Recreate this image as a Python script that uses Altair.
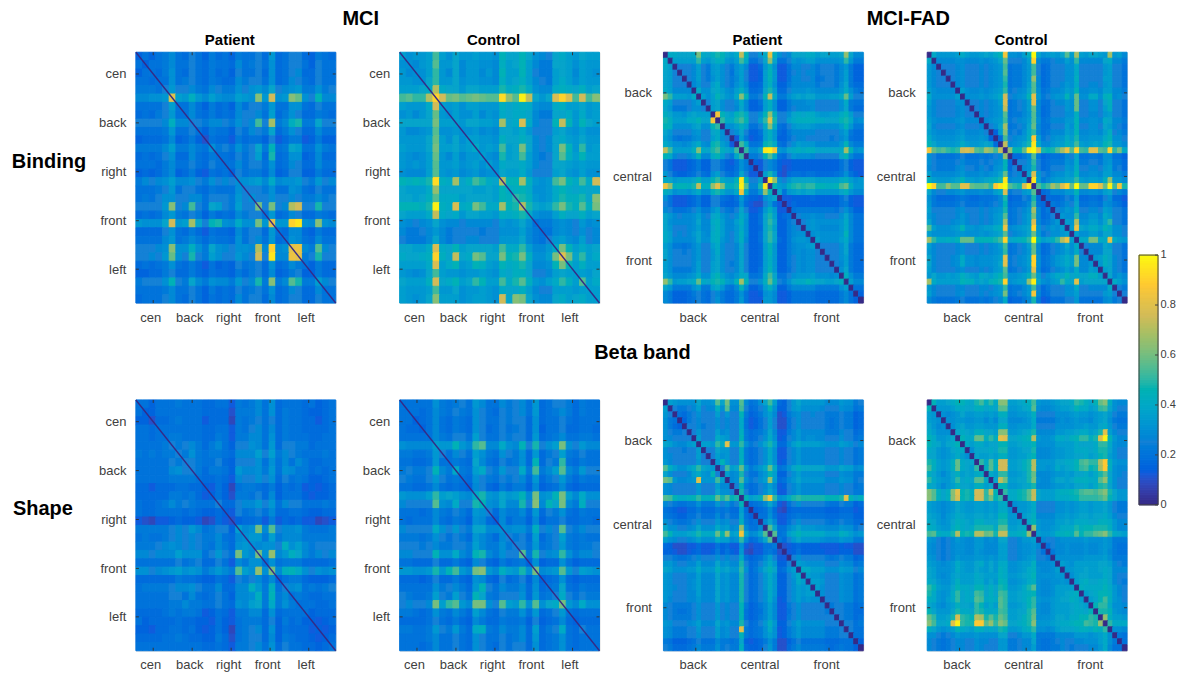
import altair as alt
import pandas as pd

FONT = "Liberation Sans"
INK = "#404040"
# each character is one cell: 0=0.00, 1=0.05, 2=0.10 ... j=0.95, k=1.00
SCALE = "0123456789abcdefghijk"
PARULA = ["#352a87", "#0f5cdd", "#1481d6", "#06a4ca", "#2eb7a4", "#87bf77", "#d1bb59", "#fec832", "#f9fb0e"]
STOPS = [0, 0.125, 0.25, 0.375, 0.5, 0.625, 0.75, 0.875, 1]

binding_mci_patient = [
"34344 54454 34343 44544 64454 33443", "43444 54454 44444 54544 64454 43544", "34444 64454 34343 54544 54454 34544",
"44343 64554 44434 54644 64454 44544", "55555 76665 56656 76877 87777 56756", "66666 g7797 67767 777d7 f77cb 66866",
"44444 74454 34343 54645 65466 44544", "34344 64454 44344 54654 74564 34443", "55555 86655 55655 656a5 d5688 45755",
"44444 64454 34443 54745 84564 34544", "33433 53343 23333 43533 53344 23433", "55555 75565 56565 65695 b5587 45654",
"44444 54454 44444 54644 64454 34544", "44444 54454 44444 54644 64454 34544", "33333 43343 23343 43533 53344 23433",
"56565 76665 56566 66866 87767 55756", "44454 64654 44445 65645 65465 44544", "34344 54454 34444 54644 64454 34544",
"66666 c66b6 56a66 866c6 c77de 66866", "34344 64454 34344 54644 64454 34443", "76767 f77e7 57d66 866c7 g76ij 66c66",
"33333 53343 23333 43633 64355 33433", "44444 64454 44444 54644 74465 44544", "55565 d6696 57766 666f6 i66gg 65a65",
"66766 c66b6 57866 666g6 j66hg 56966", "44444 64454 34344 54644 64454 43544", "33333 43343 33333 43543 53344 33433",
"55555 a5586 56665 656b5 d56ca 45765", "44444 54454 34344 54544 64454 34544", "44444 54454 34344 54644 54454 34544",
]
binding_mci_control = [
"76776 b7787 77777 87877 76677 78787", "66676 b6786 66666 76866 65576 77676", "65666 a6676 66565 76766 65566 76676",
"66666 b6776 66666 76866 65567 77676", "88898 e9988 88888 98a88 87789 9a988", "aba9e ifccc ccccc icbjf 767gi ibgbd",
"77777 f7777 77777 87977 76688 78777", "56566 b6666 56566 76866 65576 67676", "77887 c7877 78777 d78f8 655ae b7a77",
"65565 a5666 56566 67766 55566 66665", "67777 b7787 77777 87877 66677 77776", "77777 c7877 78777 c78e8 6567e a7c77",
"66666 b6676 66766 77766 65577 77676", "66766 a6776 67676 77866 65576 77676", "55656 a6665 56566 67766 55566 66665",
"aabaa j99e9 99c99 e9ac9 778cd a9c9g", "88888 e8988 87787 98988 67788 88888", "77777 b7887 77877 88a77 66777 88878",
"bccbb kaaga aafaa facea 99ace cbebh", "88888 e9987 87887 88a98 76678 89988", "55454 85555 55555 66765 45555 55655",
"54454 75455 45455 55655 44455 55555", "44444 85455 55555 56655 44566 56655", "88888 f8888 88888 98987 6678c 98888",
"99998 i99f9 9af99 baca9 778cg a9a89", "77777 d7a77 78a77 88977 6679e 97977", "55555 a6666 66766 77966 55566 77677",
"88888 e8a88 88c88 98b88 7788a 88b88", "66666 a6686 66766 77866 65566 76676", "77677 c7877 77877 e7h77 76677 78887",
]
binding_fad_patient = [
"08888 88c88 88a88 8e866 88h88 66888 88888 888d8 66", "80777 77a77 78977 7b755 77e75 56777 77777 777a7 55",
"87055 55755 67655 67533 46953 35666 56555 55664 33", "77505 55755 67654 67433 37a63 35566 66555 55674 33",
"77550 55755 57655 57433 37a63 35666 56445 55674 33", "77555 05755 68655 67533 47953 35666 66555 55684 44",
"87666 60866 69766 79644 48b64 46777 77666 66796 55", "ca777 68077 79877 8c855 59e75 57888 88777 778b8 66",
"87555 56705 68655 68433 47953 35666 66555 55684 44", "76444 56550 68655 57433 37953 35566 56555 55674 33",
"98777 89788 0h988 9a866 79c86 67999 99888 88a98 66", "b9777 87977 h0a88 9a866 7ag96 68999 99888 88a98 66",
"88666 67766 9a077 79755 58b75 46788 87666 66797 55", "76555 56655 78505 67533 47854 35666 66555 55674 33",
"65444 45555 68550 56433 37853 34566 55555 45563 33", "87666 67866 9a760 9b855 59a75 46788 77666 66796 55",
"fa777 78d88 9b888 a0a66 8jki7 68999 99888 888da 77", "a9666 67a77 8a755 8a066 69c75 46888 87666 66a97 55",
"43222 33433 44332 36303 24533 22333 33333 33443 22", "43222 33433 44333 36330 24533 22333 33333 33443 22",
"53333 34544 57544 47433 07a53 24444 44344 44554 33", "88777 77977 9a877 9j966 70j87 57888 88777 77987 66",
"gc888 88f88 ege99 9ja66 9j0i8 79aaa aa999 99ca9 77", "98777 78977 9a988 9g966 8i087 58999 99888 88a98 77",
"43222 33433 44333 36333 25680 22333 33333 33443 22", "43222 33433 44333 36332 25633 02333 33333 33443 22",
"54333 44544 56444 47433 36853 30444 44444 44554 33", "76555 55655 67655 57533 47953 44055 56555 55675 44",
"75555 55755 78655 68433 47a63 35505 66666 66685 44", "76444 55655 68655 57433 37953 35650 66655 55685 44",
"87555 56766 78655 68433 47a63 35666 06766 66695 44", "87555 55766 78655 68433 47a64 35677 60766 66785 44",
"65444 45655 68655 57433 47953 35666 67055 55674 33", "75555 55655 58655 57433 37953 35666 66505 55674 33",
"75555 55655 57655 57433 37853 35566 66550 55664 33", "65555 55755 67655 57433 37853 35566 66555 05574 33",
"65444 45755 67655 57433 47953 34566 66555 50684 33", "76555 66866 68766 68544 47954 45677 77666 66086 44",
"da777 77c88 9a977 9e966 79d86 57888 98888 77907 66", "76555 56655 68655 58433 47853 35666 66555 55670 44",
"54333 34444 45444 45333 36643 33444 44444 44554 03", "54333 33444 46444 46333 27643 33444 44444 44554 30",
]
binding_fad_control = [
"08777 77877 77888 8h766 77k87 7778c 8f877 777d7 66", "80666 66766 66677 7e655 66i76 55667 6b666 66a76 55",
"65055 55655 55566 6a444 56b54 45556 69555 55865 44", "65505 55655 55566 6a444 56b54 45556 69555 55865 44",
"65550 55655 55566 6b444 56c64 45556 6a555 55965 44", "65555 05655 55566 6a444 56c64 45566 69555 55865 44",
"76666 60766 66677 7b556 67c75 56677 7a666 66966 55", "85666 67066 66677 7e556 67e75 56778 7a666 66b75 55",
"75555 56605 55566 7e445 56e65 45666 6a555 55a65 44", "65555 55650 55566 6d445 56d64 45556 6a555 55965 44",
"65555 55655 05566 6c444 56c64 45556 69555 55865 44", "76666 66766 60677 7b556 66a75 56667 7a666 66b76 55",
"75555 55655 55056 7c445 56d65 45556 6a555 55966 44", "65555 55655 55506 6a444 56a54 45556 69555 55864 44",
"86666 66766 66607 7a556 67h85 56778 7a666 67a76 55", "a8777 77977 77880 gc667 78j97 67889 8c877 88c87 66",
"h9bc9 99ghg aaffb h0h88 bjkj9 99bhh bibag gbbia c8", "54444 44544 44455 59033 45a53 34445 58444 44854 33",
"65555 55655 55566 6a405 56c64 45556 69555 55865 44", "55555 55655 55556 6a450 56b54 45556 69555 55864 44",
"75666 66766 66677 8c556 07h86 56777 7a666 66966 55", "a8777 88b88 789aa bj666 70j85 67888 8c877 77b87 66",
"kiaae aaiia acaai jkc88 ej0b8 9ebjj bkbbi iibka h9", "74555 55655 55566 7c445 56b04 45556 69555 55865 44",
"53333 33433 33344 4a333 44b30 33344 47333 33643 22", "64444 44544 44455 59444 45c44 04445 58444 44855 33",
"75555 55655 55566 6a445 56d64 50556 69555 55965 44", "65555 55655 55566 6b445 56d64 45056 6a555 55a65 44",
"75555 55655 55566 6a445 56c64 56807 7b666 66965 44", "a7666 77a77 66888 8g667 77h76 67670 7g877 77b76 55",
"66666 66666 66677 7b556 67c75 56667 07666 66966 55", "c9777 78ddd 88899 9i778 88k97 78ahh 7088d d88g8 66",
"65555 55655 55566 6a445 56c64 45667 68055 55965 44", "65555 55655 55566 6a445 56c64 45667 68505 55965 44",
"85555 66a77 66777 7g556 67i75 56889 8b660 78b66 44", "85555 66a77 66777 7g556 67i75 56889 8b666 07b66 44",
"75555 55655 55566 6b445 56e64 45667 68666 60966 44", "65555 55655 55666 6a445 56c64 45667 68666 65065 44",
"e9888 88bbb 888bb bi778 8ij98 678e9 9g899 99908 77", "65555 55655 55566 6a445 56b54 45556 68555 55680 55",
"86666 66766 66677 7c556 67h75 56667 78666 66975 05", "54444 44544 44455 58333 45a53 34445 57444 44754 50",
]
shape_mci_patient = [
"44344 44444 44343 44544 54444 34344", "43344 44444 44232 45544 54544 33344", "33243 44444 34232 44544 44444 34344",
"44344 44444 44343 44644 54544 34444", "44444 54444 44443 45744 64544 44454", "44444 54554 44443 45744 64554 44544",
"54545 55575 56445 56766 65654 45554", "44444 54545 54434 45644 64545 44444", "44444 65655 45444 66755 65664 54544",
"44444 54444 34333 45645 54544 44444", "33233 33334 32332 34533 43333 23233", "33333 53443 33232 34533 43343 32333",
"55555 75655 56545 56766 65666 55565", "44444 44444 33333 44544 54444 44444", "22122 32222 12222 33422 32333 22122",
"55555 66677 56563 768c6 b6678 55555", "44444 55555 55544 56865 75566 55555", "44444 54444 43443 45645 54544 44444",
"77677 78878 57766 c77c8 d77c9 76777", "44444 44445 44443 54744 54444 34444", "77666 78677 57766 b77d7 c66b8 66777",
"33333 34433 33333 44644 53344 33333", "44544 55665 55534 56c65 b5566 45555", "44444 55454 44443 45855 75544 44444",
"44444 55655 55444 45a65 85654 44444", "44444 54544 33333 44744 64444 44444", "43333 33332 33323 34533 43434 23233",
"33233 33332 33322 34643 53333 33333", "33333 44433 33332 34633 43443 33233", "44444 44444 44333 44644 54544 34344",
]
shape_mci_control = [
"44444 65546 57644 65655 64464 54544", "44444 55555 56544 55655 64455 54544", "44344 54444 45544 55644 54444 44444",
"43334 54444 46534 54544 53444 34443", "44444 55556 57544 55644 64455 45554", "66666 77997 66e66 86686 7668a 66666",
"44444 65556 57654 65554 54456 45444", "33333 43433 34433 43433 43334 33333", "55555 96685 56b65 76696 d669e 76866",
"44444 64544 45554 54544 54455 44444", "33333 53433 34533 43533 43344 33333", "66767 e7b87 78c87 977b7 g77cg 87a76",
"55555 86755 57966 66655 86676 55655", "44444 54544 45654 55544 54454 44444", "43444 54444 35533 53533 43343 34443",
"55555 86665 56966 66755 8665b 55655", "44444 65545 46544 55544 64456 44544", "44444 54545 47544 54544 54455 44444",
"66666 a7977 67e76 766b6 8778a 76776", "33333 43433 34533 43433 43334 33333", "77777 c8e88 78h87 988b8 c778b 76887",
"33333 43433 35533 43433 43344 33333", "44444 65755 46c65 55544 54457 44544", "44444 65655 46844 55544 54456 44544",
"66666 e8g88 78i87 b88a8 b88ac 87877", "44444 65545 46644 55555 64465 44444", "33333 43433 34433 44433 43344 33333",
"44444 76655 46b54 54544 64458 44544", "44444 54544 45544 54544 54455 44444", "44444 54544 46544 54644 54455 44444",
]
shape_fad_patient = [
"07666 55755 6b7g5 5a544 67a64 35676 66665 55655 44", "70544 55755 58665 59544 56964 35676 66665 55655 44",
"75043 45655 57565 59444 56853 35665 56555 55544 33", "65403 45655 56555 58433 45853 24565 55555 45544 33",
"65430 55655 56555 58433 45853 24565 55555 45544 33", "75555 05755 57665 59544 56963 35676 66665 55655 44",
"76555 50755 59865 5a544 56963 35676 66665 55655 44", "87655 67077 6a8g6 6a655 67a74 46787 77766 66766 55",
"75554 55705 58765 59544 56963 35676 66665 55655 44", "76555 55750 57765 59544 56963 35676 66665 55655 44",
"76555 55755 05865 5a544 56963 35676 66665 55655 44", "b9766 77a77 80ab7 8c766 78c85 56898 88887 77877 66",
"86555 56865 a0865 6a544 66a74 35676 66665 55655 44", "8g766 67g77 7a806 7b766 78c85 56787 77776 66766 55",
"76555 55755 57650 59544 56863 35676 66665 55655 44", "76555 55755 57655 09544 56863 35676 66665 55655 44",
"cc988 88a88 8b9b9 a0988 9ah98 89aaa aaaaa aaag9 88", "65544 44644 46554 59044 55853 24565 55555 44544 33",
"43222 33433 33433 36303 34633 12333 33333 33333 22", "54333 44544 45444 47430 44743 23454 44444 44444 33",
"65444 45655 56555 58444 05853 24565 55555 45544 33", "86655 56866 68765 6g644 60b85 46787 77666 66766 55",
"b9666 67977 7b8e6 7h755 7b0b4 46787 77776 66866 55", "86655 56766 68765 6b644 67b05 46787 77766 66766 55",
"32111 22322 23222 24212 23440 12333 33322 22322 11", "33222 23322 34333 25223 34533 02343 33333 33333 22",
"55444 45555 56555 57444 45843 30565 55555 45544 33", "77555 55755 57665 59544 56963 35076 66665 55655 44",
"87666 66866 68776 6a644 67a74 46708 87776 66766 55", "76555 55755 57665 59544 56963 35780 76665 55655 44",
"76555 56755 57665 59544 56963 35687 07765 55655 44", "76555 56755 57665 59544 56963 35677 70765 55655 44",
"76555 55755 57665 59544 56963 35677 77065 55655 44", "75555 55755 57665 59544 56963 35676 76605 55655 44",
"65444 45655 56555 58433 45853 24565 55550 45544 33", "65444 45655 56555 58433 45853 24565 55555 05544 33",
"65444 45655 56555 58433 45853 24565 55555 50544 33", "76555 56755 57665 59544 56963 35676 66665 55055 44",
"76555 55755 57665 5g544 56a63 35676 66665 55505 44", "76555 55655 57665 59544 56863 35676 66665 55550 44",
"54333 34544 45544 57333 44743 23454 44444 44444 03", "65444 45655 56555 59443 45843 24565 55555 45544 30",
]
shape_fad_control = [
"09788 89a87 ab8b7 cc777 78c66 67788 89b97 9ee77 77", "90777 78988 99888 aa777 78a66 67788 88997 8cc77 66",
"76066 66866 77676 88666 67955 55666 77776 78866 55", "66606 56766 66565 77555 56844 44565 66665 67755 44",
"76560 67866 77666 88666 66855 55666 66676 68866 55", "87676 08987 99887 aa777 78a66 66778 88997 8cc77 66",
"98777 70988 bb8b8 gf888 88f77 77999 99bb8 9jj88 77", "87767 79087 88777 99777 77966 66778 78887 8bb77 66",
"87767 78806 87787 99777 77a66 66778 88887 8bb77 66", "87767 78760 87787 99777 78a66 66778 88897 8bb77 66",
"98777 8c877 0a8b8 ff777 88f77 77989 99bb8 9hh77 77", "a8777 8c887 a08b8 ff777 88f77 77989 99bb8 9hh77 77",
"97767 79787 89087 99777 78a66 66778 78897 8bb77 66", "98777 79887 bb807 fa777 78b66 67888 89997 8dd77 66",
"97767 79887 99780 99777 78a66 66778 78897 8bb77 66", "dc989 fg9a8 ffbe9 0a999 9ae88 8899a aaccc cdd99 88",
"dc989 fg9a8 ffbe9 a0999 9ae88 8899a aaccc cdd99 88", "76666 67766 77676 77066 66855 55667 66776 77766 55",
"76666 67766 77676 77606 66855 55667 66776 77766 55", "87767 78877 88787 99770 77966 66778 77887 88877 66",
"98777 89987 99888 aa777 08a77 77889 88998 89988 77", "98777 8a988 bbbb8 cc888 81d77 77899 9b9aa bbb88 77",
"9c888 9d998 dddd9 ff888 8d177 7799a 9d9aa ddd99 88", "76555 56655 66565 77555 66716 55566 66676 66655 55",
"65555 55655 66555 66555 55651 45556 55565 56655 44", "65555 55655 65555 66555 55654 14556 55565 56655 44",
"65555 56666 66666 66555 56755 51666 66676 66755 55", "76666 67766 67676 77666 66866 66176 67776 67766 55",
"76666 67766 76676 87666 67866 66717 67786 67766 66", "76666 66666 76666 76666 67866 66761 66776 66766 55",
"87666 68766 77676 87666 67866 66676 16786 67866 55", "ba777 79887 99787 98777 88966 66778 81988 88877 66",
"87667 79787 a9787 98777 78966 66778 98177 89977 66", "87667 79787 ba787 a8777 78a66 66778 98717 89977 66",
"87667 79887 ca797 a8777 78a66 67888 98871 9aa77 77", "97677 7a887 ba888 98777 78966 67888 98879 19988 77",
"98677 7c987 ba898 a8777 88a66 67888 9899a a1d88 77", "b9788 kk988 iibd9 ca888 88c77 77899 9a9ca ad1aa aa",
"a8777 7a987 aa898 a9777 89b77 67899 99aa9 a9a16 77", "55444 45555 65555 66444 55744 44555 56665 56661 44",
"44444 44544 54544 55444 44744 44555 55565 57655 14", "44444 44544 54444 55444 44644 44455 44444 46644 41",
]

mci_ticks = [2.6, 8.45, 14.3, 20.15, 25.95]
mci_labels = ["cen", "back", "right", "front", "left"]
fad_ticks = [6.8, 20.8, 34.8]
fad_labels = ["back", "central", "front"]
colorbar_values = [0, 0.2, 0.4, 0.6, 0.8, 1]
W, H = 200, 251

color_scale = alt.Scale(domain=STOPS, range=PARULA, clamp=True)


def long_table(rows):
    rows = [r.replace(" ", "") for r in rows]
    n = len(rows)
    out = []
    for i, row in enumerate(rows):
        if len(row) != n:
            raise ValueError(f"row {i} has {len(row)} cells, expected {n}: {row}")
        for j, ch in enumerate(row):
            # each pair of mirrored cells was read twice from the symmetric picture: keep the mean of both readings
            other = rows[j][i]
            val = (SCALE.index(ch) + SCALE.index(other)) * 0.025
            if i == j and n == 42:
                val = 0
            out.append({"x0": j, "x1": j + 1, "y0": i, "y1": i + 1, "v": val})
    return pd.DataFrame(out), n


def caption(text, x, y, size=20):
    return alt.Chart(pd.DataFrame({"t": [text]})).mark_text(
        font=FONT, fontWeight="bold", fontSize=size, color="black", align="center", baseline="middle"
    ).encode(x=alt.value(x), y=alt.value(y), text="t:N")


def colorbar_layers():
    ramp = pd.DataFrame({"v0": [i / 100 for i in range(100)], "v1": [(i + 1) / 100 for i in range(100)]})
    ticks = pd.DataFrame({"v": colorbar_values, "t": ["0", "0.2", "0.4", "0.6", "0.8", "1"]})
    frame = pd.DataFrame({"v0": [0], "v1": [1]})
    ys = alt.Scale(domain=[0, 1], range=[453, 203], nice=False, zero=False)
    return [
        alt.Chart(ramp).mark_rect(strokeWidth=1).encode(
            x=alt.value(212), x2=alt.value(231),
            y=alt.Y("v0:Q", scale=ys, axis=None), y2="v1:Q",
            color=alt.Color("v0:Q", scale=color_scale, legend=None),
            stroke=alt.Stroke("v0:Q", scale=color_scale, legend=None)),
        alt.Chart(frame).mark_rect(fillOpacity=0, stroke="#404040", strokeWidth=1).encode(
            x=alt.value(212), x2=alt.value(231), y=alt.Y("v0:Q", scale=ys, axis=None), y2="v1:Q"),
        alt.Chart(ticks).mark_rule(color="#404040", strokeWidth=1).encode(
            x=alt.value(228), x2=alt.value(231), y=alt.Y("v:Q", scale=ys, axis=None)),
        alt.Chart(ticks).mark_text(font=FONT, fontSize=11, color=INK, align="left", baseline="middle").encode(
            x=alt.value(233.5), y=alt.Y("v:Q", scale=ys, axis=None), text="t:N"),
    ]


def panel(rows, ticks, labels, heading=None, diagonal=False, extras=(), colorbar=False):
    df, n = long_table(rows)
    xs = alt.Scale(domain=[0, n], nice=False, zero=False)
    ys = alt.Scale(domain=[n, 0], nice=False, zero=False)
    expr = "{" + ",".join(f"'{t}':'{l}'" for t, l in zip(ticks, labels)) + "}[datum.value]"
    x_axis = alt.Axis(values=ticks, labelExpr=expr, title=None, domain=False, ticks=False, grid=False,
                      labelFontSize=13, labelFont=FONT, labelColor=INK, labelPadding=8, labelOffset=-3, labelAngle=0)
    y_axis = alt.Axis(values=ticks, labelExpr=expr, title=None, domain=False, ticks=False, grid=False,
                      labelFontSize=13, labelFont=FONT, labelColor=INK, labelPadding=12 if n == 42 else 10)
    other_y_axis = None if colorbar else y_axis
    heat = alt.Chart(df).mark_rect(strokeWidth=1).encode(
        x=alt.X("x0:Q", scale=xs, axis=x_axis), x2="x1:Q",
        y=alt.Y("y0:Q", scale=ys, axis=y_axis), y2="y1:Q",
        color=alt.Color("v:Q", scale=color_scale, legend=None),
        stroke=alt.Stroke("v:Q", scale=color_scale, legend=None),
    )
    layers = [heat]
    if diagonal:
        diag = pd.DataFrame({"d": [0, n]})
        layers.append(alt.Chart(diag).mark_line(color="#352a87", strokeWidth=1.4).encode(
            x=alt.X("d:Q", scale=xs, axis=x_axis), y=alt.Y("d:Q", scale=ys, axis=other_y_axis)))
    t = pd.DataFrame({"t": ticks})
    for a, b in ((0, 3), (H, H - 3)):
        layers.append(alt.Chart(t).mark_rule(color="#333333", strokeWidth=1).encode(
            x=alt.X("t:Q", scale=xs, axis=x_axis), y=alt.value(a), y2=alt.value(b)))
    for a, b in ((0, 3), (W, W - 3)):
        layers.append(alt.Chart(t).mark_rule(color="#333333", strokeWidth=1).encode(
            y=alt.Y("t:Q", scale=ys, axis=other_y_axis), x=alt.value(a), x2=alt.value(b)))
    if heading:
        layers.append(caption(heading, W / 2 - 6, -12, 15))
    layers.extend(extras)
    if colorbar:
        layers.extend(colorbar_layers())
        return alt.layer(*layers).resolve_scale(y="independent").properties(width=W, height=H)
    return alt.layer(*layers).properties(width=W, height=H)


panels = [
    panel(binding_mci_patient, mci_ticks, mci_labels, "Patient", True,
          [caption("MCI", 225, -33), caption("Binding", -87, 110)]),
    panel(binding_mci_control, mci_ticks, mci_labels, "Control", True),
    panel(binding_fad_patient, fad_ticks, fad_labels, "Patient", False, [caption("MCI-FAD", 245, -33)]),
    panel(binding_fad_control, fad_ticks, fad_labels, "Control", False, colorbar=True),
    panel(shape_mci_patient, mci_ticks, mci_labels, None, True, [caption("Shape", -93, 109)]),
    panel(shape_mci_control, mci_ticks, mci_labels, None, True, [caption("Beta band", 243, -47)]),
    panel(shape_fad_patient, fad_ticks, fad_labels),
    panel(shape_fad_control, fad_ticks, fad_labels),
]

chart = alt.concat(*panels, columns=4, spacing=alt.RowColnumber(row=97, column=64), bounds="flush").resolve_scale(
    color="shared", stroke="shared"
).properties(padding={"left": 3, "top": 0, "right": 0, "bottom": 0}).configure_view(
    stroke="#333333", strokeWidth=1
).configure(background="white")

chart.save("out.html", embed_options={"renderer": "svg", "actions": False})
